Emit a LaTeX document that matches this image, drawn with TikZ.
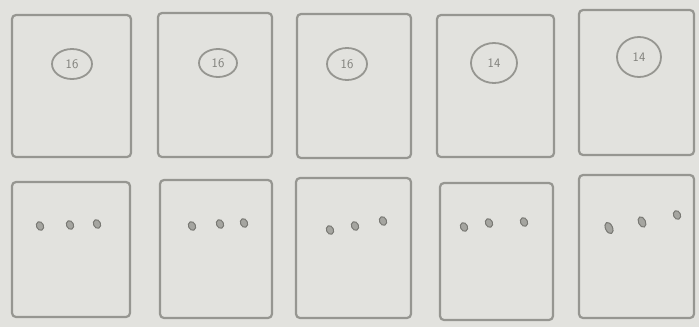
\documentclass[tikz,border=0pt]{standalone}
\usetikzlibrary{shapes.geometric}
\definecolor{paper}{RGB}{226,226,222}
\definecolor{pencil}{RGB}{150,150,145}
\definecolor{dotc}{RGB}{165,165,160}
\definecolor{dotrim}{RGB}{120,120,115}
\begin{document}
\begin{tikzpicture}[x=1pt,y=-1pt,
  card/.style={draw=pencil, line width=2.2pt, rectangle, rounded corners=4pt, line join=round},
  tag/.style={draw=pencil, line width=1.8pt, ellipse, inner sep=0pt,
    text=pencil!85!black, font=\sffamily\fontsize{13}{13}\selectfont},
  pip/.style={fill=dotc, draw=dotrim, line width=1pt, ellipse, inner sep=0pt,
    minimum width=7pt, minimum height=9pt, rotate=25}]
\fill[paper] (0,0) rectangle (699,327);
\useasboundingbox (0,0) rectangle (699,327);
% top row
\node[card, minimum width=119pt, minimum height=142pt] (t1) at (71.5,86) {};
\node[card, minimum width=114pt, minimum height=144pt] (t2) at (215,85) {};
\node[card, minimum width=114pt, minimum height=144pt] (t3) at (354,86) {};
\node[card, minimum width=117pt, minimum height=142pt] (t4) at (495.5,86) {};
\node[card, minimum width=115pt, minimum height=145pt] (t5) at (636.5,82.5) {};
\node[tag, minimum width=40pt, minimum height=30pt] (c1) at (72,64) {16};
\node[tag, minimum width=38pt, minimum height=28pt] (c2) at (218,63) {16};
\node[tag, minimum width=40pt, minimum height=32pt] (c3) at (347,64) {16};
\node[tag, minimum width=46pt, minimum height=40pt] (c4) at (494,63) {14};
\node[tag, minimum width=44pt, minimum height=40pt] (c5) at (639,57) {14};
% bottom row
\node[card, minimum width=118pt, minimum height=135pt] (b1) at (71,249.5) {};
\node[card, minimum width=112pt, minimum height=138pt] (b2) at (216,249) {};
\node[card, minimum width=115pt, minimum height=140pt] (b3) at (353.5,248) {};
\node[card, minimum width=113pt, minimum height=137pt] (b4) at (496.5,251.5) {};
\node[card, minimum width=115pt, minimum height=143pt] (b5) at (636.5,246.5) {};
% pips
\node[pip] (p11) at (40,226) {};
\node[pip] (p12) at (70,225) {};
\node[pip] (p13) at (97,224) {};
\node[pip] (p21) at (192,226) {};
\node[pip] (p22) at (220,224) {};
\node[pip] (p23) at (244,223) {};
\node[pip] (p31) at (330,230) {};
\node[pip] (p32) at (355,226) {};
\node[pip] (p33) at (383,221) {};
\node[pip] (p41) at (464,227) {};
\node[pip] (p42) at (489,223) {};
\node[pip] (p43) at (524,222) {};
\node[pip, minimum height=12pt] (p51) at (609,228) {};
\node[pip, minimum height=11pt] (p52) at (642,222) {};
\node[pip] (p53) at (677,215) {};
\end{tikzpicture}
\end{document}
